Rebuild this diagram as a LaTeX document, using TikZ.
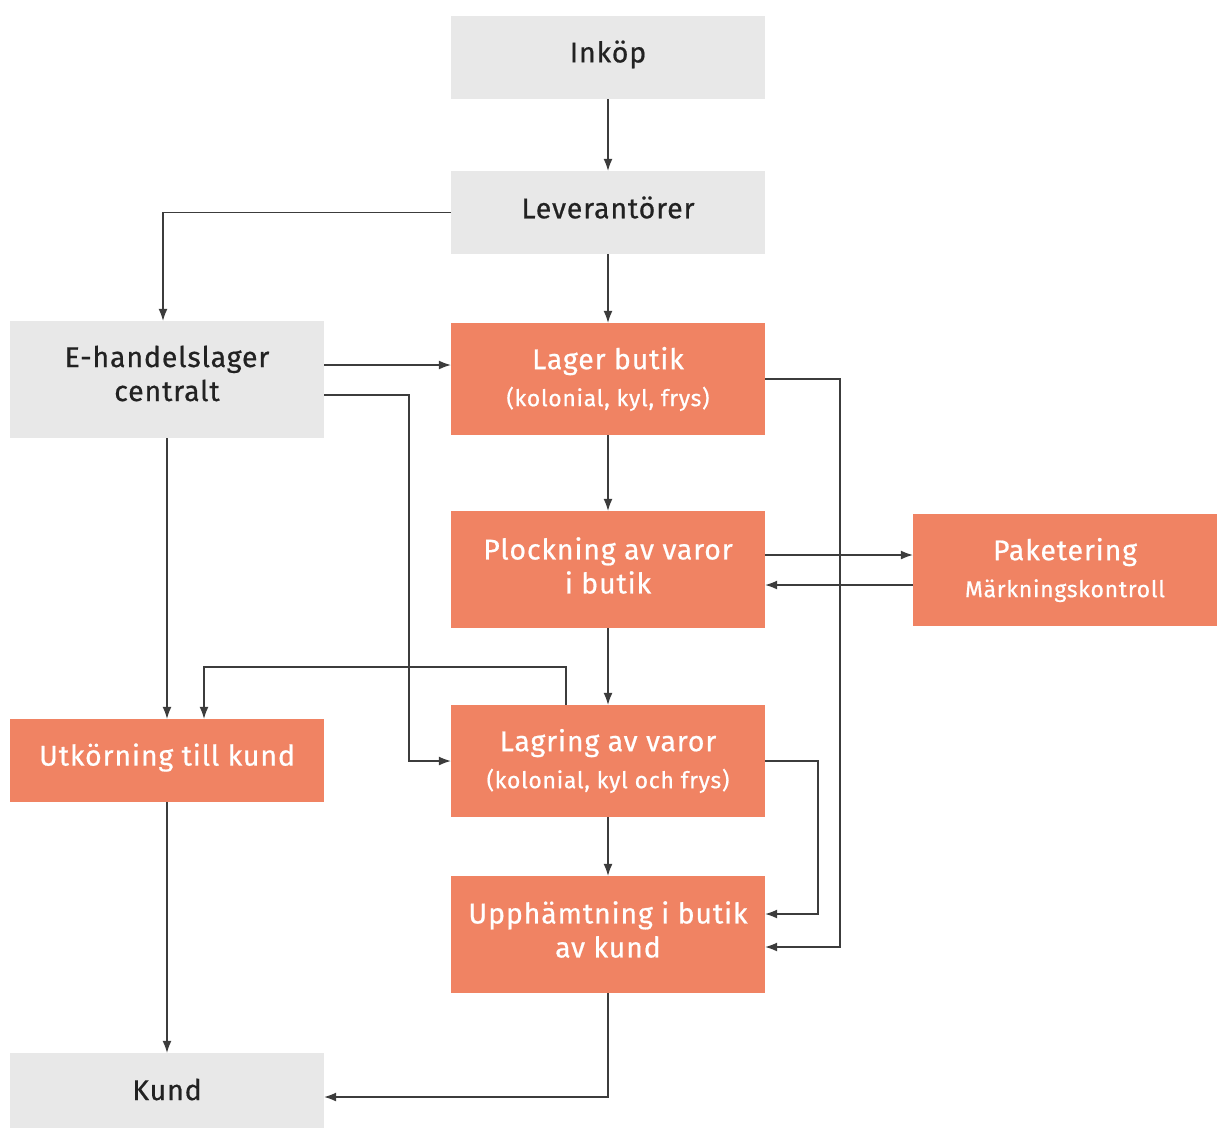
\documentclass[tikz,border=0pt]{standalone}
\usepackage{fontspec}
\setmainfont{Fira Sans}[LetterSpace=3, FakeBold=0.6]
\usetikzlibrary{arrows.meta}
\definecolor{boxgrey}{HTML}{E8E8E8}
\definecolor{boxorange}{HTML}{F08363}
\definecolor{ink}{HTML}{222222}
\definecolor{wire}{HTML}{3C3C3C}
\newcommand{\mainsize}{\fontsize{28.5}{34}\selectfont}
\newcommand{\subsize}{\fontsize{23}{24}\selectfont}
\begin{document}
\begin{tikzpicture}[x=1pt,y=-1pt,
  base/.style={rectangle, inner sep=0pt},
  greybox/.style={base, fill=boxgrey},
  orangebox/.style={base, fill=boxorange},
  wide/.style={minimum width=314pt},
  darktxt/.style={align=center, font=\mainsize, text=ink, inner sep=0pt},
  lighttxt/.style={align=center, font=\mainsize, text=white, inner sep=0pt},
  link/.style={draw=wire, line width=1.1pt, -{Latex[length=12pt,width=9pt]}}
]
\useasboundingbox (0,0) rectangle (1217,1128);

% boxes, each with its caption placed at the centre
\node[greybox, wide, minimum height=83pt,
  label={[darktxt, yshift=3pt]center:Inköp}] (inkop) at (608,57.5) {};
\node[greybox, wide, minimum height=83pt,
  label={[darktxt, yshift=5pt]center:Leverantörer}] (lev) at (608,212.5) {};
\node[greybox, wide, minimum height=117pt,
  label={[darktxt, yshift=6pt]center:{E-handelslager\\centralt}}] (ehandel) at (167,379.5) {};
\node[orangebox, wide, minimum height=112pt,
  label={[lighttxt]center:{Lager butik\\[3pt]{\subsize (kolonial, kyl, frys)}}}] (lager) at (608,379) {};
\node[orangebox, wide, minimum height=117pt,
  label={[lighttxt, yshift=4pt]center:{Plockning av varor\\i butik}}] (plock) at (608,569.5) {};
\node[orangebox, minimum width=304pt, minimum height=112pt,
  label={[lighttxt]center:{Paketering\\[3pt]{\subsize Märkningskontroll}}}] (paket) at (1065,570) {};
\node[orangebox, wide, minimum height=83pt,
  label={[lighttxt, yshift=3pt]center:Utkörning till kund}] (utk) at (167,760.5) {};
\node[orangebox, wide, minimum height=112pt,
  label={[lighttxt]center:{Lagring av varor\\[3pt]{\subsize (kolonial, kyl och frys)}}}] (lagring) at (608,761) {};
\node[orangebox, wide, minimum height=117pt,
  label={[lighttxt, yshift=5pt]center:{Upphämtning i butik\\av kund}}] (upph) at (608,934.5) {};
\node[greybox, wide, minimum height=75pt,
  label={[darktxt, yshift=1pt]center:Kund}] (kund) at (167,1090.5) {};

% attachment points and routing columns
\coordinate (levW) at (lev.west);
\coordinate (ehN) at ([xshift=-4pt]ehandel.north);
\coordinate (eA) at ([yshift=14.5pt]ehandel.east);
\coordinate (eB) at ([yshift=-15.5pt]ehandel.east);
\coordinate (colA) at (409,0);
\coordinate (colB) at (840,0);
\coordinate (colC) at (818,0);
\coordinate (rowA) at (0,667);
\coordinate (pA) at ([yshift=14.5pt]plock.east);
\coordinate (pB) at ([yshift=-15pt]paket.west);
\coordinate (lT) at ([xshift=-42pt]lagring.north);
\coordinate (uT) at ([xshift=37pt]utk.north);
\coordinate (uA) at ([yshift=20.5pt]upph.east);
\coordinate (uB) at ([yshift=-12.5pt]upph.east);
\coordinate (kE) at ([yshift=-6.5pt]kund.east);

% connectors
\draw[link] (inkop.south) -- (lev.north);
\draw[link] (levW) -| (ehN);
\draw[link] (lev.south) -- (lager.north);
\draw[link] (eA) -- (eA -| lager.west);
\draw[link] (eB) -| (colA |- lagring.west) -- (lagring.west);
\draw[link] (ehandel.south) -- (utk.north);
\draw[link] (lager.east) -| (colB |- uB) -- (uB);
\draw[link] (lager.south) -- (plock.north);
\draw[link] (pA) -- (pA -| paket.west);
\draw[link] (pB) -- (pB -| plock.east);
\draw[link] (plock.south) -- (lagring.north);
\draw[link] (lT) -- (lT |- rowA) -| (uT);
\draw[link] (lagring.east) -| (colC |- uA) -- (uA);
\draw[link] (lagring.south) -- (upph.north);
\draw[link] (utk.south) -- (kund.north);
\draw[link] (upph.south) |- (kE);
\end{tikzpicture}
\end{document}
